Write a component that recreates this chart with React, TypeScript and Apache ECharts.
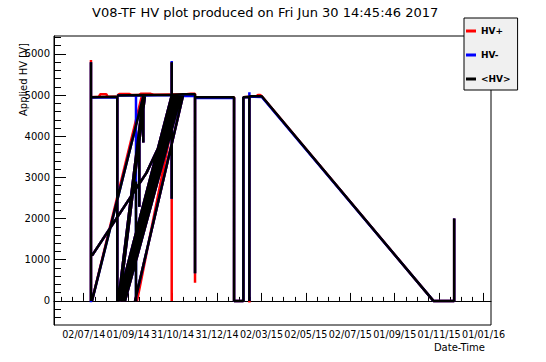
import React, { useEffect, useRef } from 'react';
import * as echarts from 'echarts';

type Pt = [string, number];

const titleText = 'V08-TF HV plot produced on Fri Jun 30 14:45:46 2017';
const yAxisTitle = 'Applied HV [V]';
const xAxisTitle = 'Date-Time';
const seriesNames = ['HV+', 'HV-', '<HV>'];
const seriesColors = ['#ff0000', '#0000ff', '#000000'];

const xRange = ['2014-05-22T09:50Z', '2016-01-11T09:36Z'];
const yRange = [-585, 6435];

const xTickTimes = [
  '2014-07-02T03:36Z', '2014-09-01T01:12Z', '2014-10-31T22:48Z', '2014-12-31T20:24Z',
  '2015-03-02T18:00Z', '2015-05-02T15:36Z', '2015-07-02T13:12Z', '2015-09-01T10:48Z',
  '2015-11-01T08:24Z', '2016-01-01T06:00Z',
];
const xTickLabels = [
  '02/07/14', '01/09/14', '31/10/14', '31/12/14', '02/03/15',
  '02/05/15', '02/07/15', '01/09/15', '01/11/15', '01/01/16',
];
const yTickValues = [0, 1000, 2000, 3000, 4000, 5000, 6000];
const yMinorTickValues = [-400, -200, 200, 400, 600, 800, 1200, 1400, 1600, 1800, 2200, 2400, 2600, 2800,
  3200, 3400, 3600, 3800, 4200, 4400, 4600, 4800, 5200, 5400, 5600, 5800, 6200, 6400];

// ramps / steps shared by all three channels
const commonSegments: Pt[][] = [
  [['2014-07-13T11:00Z', 1100], ['2014-09-26T04:00Z', 3110], ['2014-11-15T07:00Z', 4990]],
  [['2014-08-18T13:00Z', 0], ['2014-10-30T18:00Z', 4990]],
  [['2014-08-19T18:00Z', 0], ['2014-11-01T12:00Z', 4990]],
  [['2014-08-20T21:00Z', 0], ['2014-11-04T07:00Z', 4990]],
  [['2014-08-22T12:00Z', 0], ['2014-11-06T06:00Z', 4990]],
  [['2014-08-24T14:00Z', 0], ['2014-11-08T10:00Z', 4990]],
  [['2014-08-26T02:00Z', 0], ['2014-11-10T12:00Z', 4990]],
  [['2014-08-27T18:00Z', 0], ['2014-11-12T12:00Z', 4990]],
  [['2014-09-10T11:00Z', 0], ['2014-11-15T07:00Z', 4990]],
  [['2014-08-18T13:00Z', 0], ['2014-09-21T20:00Z', 4970]],
  [['2014-08-20T00:00Z', 0], ['2014-09-24T00:00Z', 4970]],
  [['2014-09-21T20:00Z', 4990], ['2014-09-21T20:00Z', 3850]],
  [['2014-09-16T08:00Z', 3880], ['2014-09-16T08:00Z', 2290]],
];

const hvPlusSegments: Pt[][] = [
  [['2014-07-12T02:00Z', 0], ['2014-07-12T02:00Z', 5850], ['2014-07-12T02:00Z', 4950], ['2014-07-23T00:00Z', 4960],
    ['2014-07-25T00:00Z', 5020], ['2014-08-02T00:00Z', 5020], ['2014-08-04T00:00Z', 4960], ['2014-08-17T04:00Z', 4960],
    ['2014-08-17T04:00Z', 0]],
  [['2014-08-17T04:00Z', 4990], ['2014-08-20T00:00Z', 5025], ['2014-09-03T00:00Z', 5025], ['2014-09-06T00:00Z', 5000],
    ['2014-09-16T00:00Z', 5000], ['2014-09-18T00:00Z', 5030], ['2014-10-02T00:00Z', 5030], ['2014-10-06T00:00Z', 5010],
    ['2014-11-20T00:00Z', 5020], ['2014-11-26T00:00Z', 5035], ['2014-12-01T17:00Z', 5035], ['2014-12-01T17:00Z', 440]],
  [['2014-10-30T18:00Z', 5800], ['2014-10-30T18:00Z', 0]],
  [['2014-09-13T04:00Z', 0], ['2014-11-08T10:00Z', 4990]],
  [['2014-07-13T11:00Z', 0], ['2014-09-20T00:00Z', 4990]],
  [['2014-12-01T17:00Z', 4950], ['2015-01-24T05:00Z', 4950], ['2015-01-24T05:00Z', 0], ['2015-02-06T00:00Z', 0],
    ['2015-02-06T00:00Z', 4950], ['2015-02-14T05:00Z', 4960], ['2015-02-14T05:00Z', -40]],
  [['2015-02-14T05:00Z', 4970], ['2015-02-24T00:00Z', 4970], ['2015-02-26T00:00Z', 5000], ['2015-03-01T00:00Z', 5000],
    ['2015-03-03T05:00Z', 4970], ['2015-10-24T12:00Z', 0], ['2015-11-21T22:00Z', 0], ['2015-11-21T22:00Z', 2000]],
];

const hvMinusSegments: Pt[][] = [
  [['2014-07-12T02:00Z', -30], ['2014-07-12T02:00Z', 5800], ['2014-07-12T02:00Z', 4940], ['2014-08-17T04:00Z', 4950],
    ['2014-08-17T04:00Z', 0]],
  [['2014-08-17T04:00Z', 4990], ['2014-09-21T20:00Z', 4990], ['2014-10-30T18:00Z', 5000], ['2014-11-15T07:00Z', 4980],
    ['2014-12-01T17:00Z', 4980], ['2014-12-01T17:00Z', 670]],
  [['2014-10-30T18:00Z', 5830], ['2014-10-30T18:00Z', 2480]],
  [['2014-09-11T19:00Z', 4960], ['2014-09-11T19:00Z', 0]],
  [['2014-07-13T11:00Z', 0], ['2014-09-21T20:00Z', 4970]],
  [['2014-12-01T17:00Z', 4930], ['2015-01-24T05:00Z', 4930], ['2015-01-24T05:00Z', 0], ['2015-02-06T00:00Z', 0],
    ['2015-02-06T00:00Z', 4950], ['2015-02-14T05:00Z', 4950], ['2015-02-14T05:00Z', 5070], ['2015-02-14T05:00Z', 0]],
  [['2015-02-14T05:00Z', 4960], ['2015-03-03T05:00Z', 4955], ['2015-10-24T12:00Z', 0], ['2015-11-21T22:00Z', 0],
    ['2015-11-21T22:00Z', 2000]],
];

const hvMeanSegments: Pt[][] = [
  [['2014-07-12T02:00Z', 0], ['2014-07-12T02:00Z', 5800], ['2014-07-12T02:00Z', 4950], ['2014-08-17T04:00Z', 4960],
    ['2014-08-17T04:00Z', 0]],
  [['2014-08-17T04:00Z', 4990], ['2014-09-21T20:00Z', 5000], ['2014-10-30T18:00Z', 5010], ['2014-11-15T07:00Z', 5020],
    ['2014-12-01T17:00Z', 5020], ['2014-12-01T17:00Z', 670]],
  [['2014-10-30T18:00Z', 5800], ['2014-10-30T18:00Z', 2480]],
  [['2014-09-11T19:00Z', 2900], ['2014-09-11T19:00Z', 0]],
  [['2014-07-13T11:00Z', 0], ['2014-09-21T20:00Z', 4970]],
  [['2014-12-01T17:00Z', 4950], ['2015-01-24T05:00Z', 4950], ['2015-01-24T05:00Z', 0], ['2015-02-06T00:00Z', 0],
    ['2015-02-06T00:00Z', 4950], ['2015-02-14T05:00Z', 4960], ['2015-02-14T05:00Z', 0]],
  [['2015-02-14T05:00Z', 4970], ['2015-03-03T05:00Z', 4970], ['2015-10-24T12:00Z', 0], ['2015-11-21T22:00Z', 0],
    ['2015-11-21T22:00Z', 2000]],
];

const FONT = 'DejaVu Sans';
const ts = (s: string) => Date.parse(s);

function buildData(segs: Pt[][]) {
  const out: (number | null)[][] = [];
  segs.forEach((seg, i) => {
    if (i > 0) out.push([null, null]);
    seg.forEach(([d, v]) => out.push([ts(d), v]));
  });
  return out;
}

export default function App() {
  const ref = useRef<HTMLDivElement>(null);
  useEffect(() => {
    if (!ref.current) return;
    const chart = echarts.init(ref.current, undefined, { renderer: 'svg' });
    const xMin = ts(xRange[0]);
    const xMax = ts(xRange[1]);
    const majors = xTickTimes.map(ts);
    const step = (majors[majors.length - 1] - majors[0]) / (majors.length - 1) / 4;
    const minors: number[] = [];
    for (let j = -8; j <= 4 * (majors.length - 1) + 8; j++) {
      if (j % 4 === 0) continue;
      const v = majors[0] + j * step;
      if (v > xMin && v < xMax) minors.push(v);
    }
    const segsBySeries = [
      [...commonSegments, ...hvPlusSegments],
      [...commonSegments, ...hvMinusSegments],
      [...commonSegments, ...hvMeanSegments],
    ];
    chart.setOption({
      animation: false,
      backgroundColor: '#ffffff',
      color: seriesColors,
      title: {
        text: titleText,
        left: 92,
        top: 6,
        padding: 0,
        textStyle: { fontFamily: FONT, fontSize: 13, fontWeight: 'normal', color: '#000' },
      },
      legend: {
        orient: 'vertical',
        left: 464,
        top: 18,
        padding: [6, 7, 4, 2],
        itemGap: 10,
        itemWidth: 10,
        itemHeight: 3,
        icon: 'rect',
        backgroundColor: '#f0f0f0',
        borderColor: '#000',
        borderWidth: 1,
        borderRadius: 0,
        textStyle: { fontFamily: FONT, fontSize: 9, fontWeight: 'bold', color: '#000', lineHeight: 14 },
        data: seriesNames,
      },
      grid: {
        left: 54,
        top: 36,
        right: 55,
        bottom: 37,
        show: true,
        borderColor: '#000',
        borderWidth: 1,
        backgroundColor: '#fff',
      },
      xAxis: [
        {
          type: 'value',
          position: 'bottom',
          min: xMin,
          max: xMax,
          axisLine: { show: true, lineStyle: { color: '#000', width: 1 } },
          axisTick: { show: true, inside: true, length: 8, customValues: majors, lineStyle: { color: '#000' } },
          axisLabel: {
            show: true,
            customValues: majors,
            margin: 4,
            fontFamily: FONT,
            fontSize: 9.6,
            color: '#000',
            formatter: (v: number) => {
              let best = 0;
              majors.forEach((m, i) => { if (Math.abs(m - v) < Math.abs(majors[best] - v)) best = i; });
              return xTickLabels[best];
            },
          },
          splitLine: { show: false },
        },
        {
          type: 'value',
          position: 'bottom',
          min: xMin,
          max: xMax,
          axisLine: { show: false },
          axisTick: { show: true, inside: true, length: 4, customValues: minors, lineStyle: { color: '#000' } },
          axisLabel: { show: false },
          splitLine: { show: false },
        },
      ],
      yAxis: [
        {
          type: 'value',
          position: 'left',
          min: yRange[0],
          max: yRange[1],
          axisLine: { show: true, lineStyle: { color: '#000', width: 1 } },
          axisTick: { show: true, inside: true, length: 12, customValues: yTickValues, lineStyle: { color: '#000' } },
          axisLabel: {
            show: true,
            customValues: yTickValues,
            margin: 4,
            fontFamily: FONT,
            fontSize: 10,
            color: '#000',
            formatter: (v: number) => String(v),
          },
          splitLine: { show: false },
        },
        {
          type: 'value',
          position: 'left',
          min: yRange[0],
          max: yRange[1],
          axisLine: { show: false },
          axisTick: { show: true, inside: true, length: 7, customValues: yMinorTickValues, lineStyle: { color: '#000' } },
          axisLabel: { show: false },
          splitLine: { show: false },
        },
      ],
      graphic: [
        {
          type: 'text',
          x: 23,
          y: 43,
          rotation: Math.PI / 2,
          style: { text: yAxisTitle, font: `10px "${FONT}"`, fill: '#000', align: 'right', verticalAlign: 'middle' },
        },
        {
          type: 'text',
          x: 485,
          y: 347,
          style: { text: xAxisTitle, font: `10px "${FONT}"`, fill: '#000', align: 'right', verticalAlign: 'middle' },
        },
      ],
      series: seriesNames.map((name, i) => ({
        type: 'line',
        name,
        xAxisIndex: 0,
        yAxisIndex: 0,
        data: buildData(segsBySeries[i]),
        showSymbol: false,
        symbol: 'none',
        connectNulls: false,
        silent: true,
        z: 2 + i,
        lineStyle: { width: 2.5, color: seriesColors[i] },
        itemStyle: { color: seriesColors[i] },
      })),
    });
    return () => chart.dispose();
  }, []);
  return <div ref={ref} style={{ position: 'absolute', left: 0, top: 0, width: 546, height: 362 }} />;
}
